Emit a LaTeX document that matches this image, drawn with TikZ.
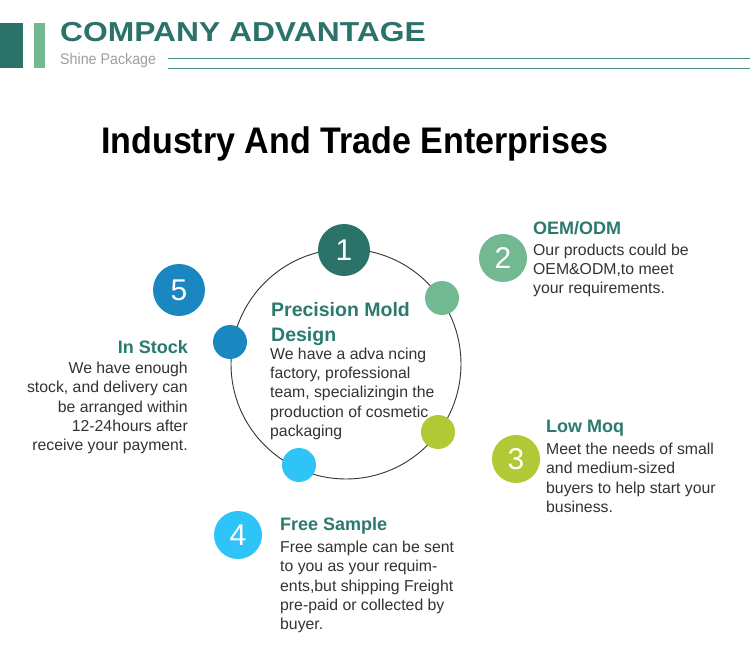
\documentclass[tikz,border=0pt]{standalone}
\usepackage{fontspec}
\setmainfont{Liberation Sans}
\newfontfamily\titlefont{Liberation Sans}[FakeStretch=0.92]
\newfontfamily\headfont{Liberation Sans}[FakeStretch=1.16]
\newfontfamily\subfont{Liberation Sans}[FakeStretch=0.92]
\definecolor{advteal}{HTML}{2B7269}
\definecolor{headteal}{HTML}{2A7A6E}
\definecolor{advgreen}{HTML}{72B991}
\definecolor{advlime}{HTML}{B0C935}
\definecolor{advsky}{HTML}{2EC4F7}
\definecolor{advblue}{HTML}{1A87C0}
\definecolor{bodygrey}{HTML}{333333}
\definecolor{lightgrey}{HTML}{A0A0A0}
\definecolor{ruleteal}{HTML}{4A8E88}
\begin{document}
\begin{tikzpicture}[x=1pt,y=-1pt,
    numdot/.style={circle, inner sep=0, minimum size=48pt, text=white,
      font=\fontsize{30}{30}\selectfont},
    smalldot/.style={circle, inner sep=0, minimum size=34pt},
    head/.style={anchor=north west, inner sep=0, text=headteal, align=left,
      font=\bfseries\fontsize{18}{22}\selectfont},
    body/.style={anchor=north west, inner sep=0, text=bodygrey, align=left,
      font=\fontsize{15.8}{19.3}\selectfont}]
\useasboundingbox[fill=white] (0,0) rectangle (750,660);
% header
\fill[advteal] (0,23.5) rectangle (22.5,68);
\fill[advgreen] (34,23.5) rectangle (44.5,68);
\node[anchor=north west, inner sep=0, text=advteal] (hdtitle) at (60,22.5)
  {\headfont\bfseries\fontsize{27.4}{27.4}\selectfont COMPANY ADVANTAGE};
\node[anchor=north west, inner sep=0, text=lightgrey] (hdsub) at (60,53)
  {\subfont\fontsize{15.5}{15.5}\selectfont Shine Package};
\draw[ruleteal, line width=1.5pt] (168,58.3) -- (750,58.3);
\draw[ruleteal, line width=1.5pt] (168,68.3) -- (750,68.3);
\node[anchor=north west, inner sep=0] (title) at (101,126.5)
  {\titlefont\bfseries\fontsize{37}{37}\selectfont Industry And Trade Enterprises};
% ring
\draw[bodygrey, line width=0.9pt] (346,364) circle [radius=115];
\node[smalldot, fill=advgreen] (dotb) at (442,298) {};
\node[smalldot, fill=advlime] (dotc) at (438,432) {};
\node[smalldot, fill=advsky] (dotd) at (299,465) {};
\node[smalldot, fill=advblue] (dote) at (230,342) {};
\node[numdot, fill=advteal, minimum size=52pt] (num1) at (344,250) {1};
\node[head, font=\bfseries\fontsize{19.5}{24.5}\selectfont] (headA) at (271,302.5) {Precision Mold\\Design};
\node[body] (bodyA) at (270,347.5) {We have a adva ncing\\factory, professional\\team, specializingin the\\production of cosmetic\\packaging};
% 2
\node[numdot, fill=advgreen] (num2) at (503,258) {2};
\node[head] (headB) at (533,221.5) {OEM/ODM};
\node[body] (bodyB) at (533,243.5) {Our products could be\\OEM\&ODM,to meet\\your requirements.};
% 3
\node[numdot, fill=advlime] (num3) at (516,459) {3};
\node[head] (headC) at (546,420) {Low Moq};
\node[body] (bodyC) at (546,443) {Meet the needs of small\\and medium-sized\\buyers to help start your\\business.};
% 4
\node[numdot, fill=advsky] (num4) at (238,535) {4};
\node[head] (headD) at (280,517) {Free Sample};
\node[body] (bodyD) at (280,541) {Free sample can be sent\\to you as your requim-\\ents,but shipping Freight\\pre-paid or collected by\\buyer.};
% 5
\node[numdot, fill=advblue, minimum size=52pt] (num5) at (179,290) {5};
\node[head, anchor=north east, align=right] (headE) at (188,340) {In Stock};
\node[body, anchor=north east, align=right] (bodyE) at (188,362) {We have enough\\stock, and delivery can\\be arranged within\\12-24hours after\\receive your payment.};
\end{tikzpicture}
\end{document}
